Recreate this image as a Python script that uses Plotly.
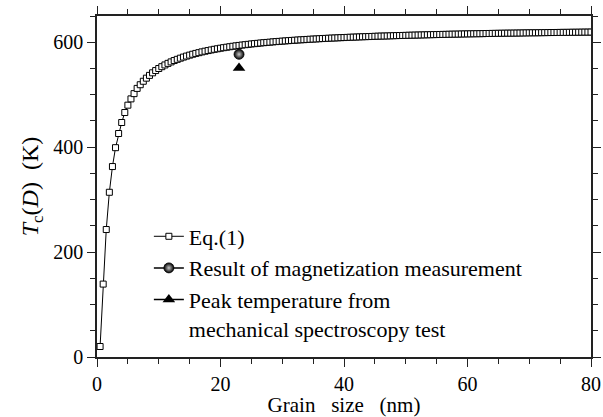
import plotly.graph_objects as go

# Eq.(1) curve: grain size (nm) and Tc (K)
grain_size = [
    0.5, 1.0, 1.5, 2.0, 2.5, 3.0, 3.5, 4.0, 4.5, 5.0, 5.5, 6.0, 6.5, 7.0, 7.5, 8.0, 8.5, 9.0, 9.5, 10.0,
    10.5, 11.0, 11.5, 12.0, 12.5, 13.0, 13.5, 14.0, 14.5, 15.0, 15.5, 16.0, 16.5, 17.0, 17.5, 18.0, 18.5, 19.0, 19.5, 20.0,
    20.5, 21.0, 21.5, 22.0, 22.5, 23.0, 23.5, 24.0, 24.5, 25.0, 25.5, 26.0, 26.5, 27.0, 27.5, 28.0, 28.5, 29.0, 29.5, 30.0,
    30.5, 31.0, 31.5, 32.0, 32.5, 33.0, 33.5, 34.0, 34.5, 35.0, 35.5, 36.0, 36.5, 37.0, 37.5, 38.0, 38.5, 39.0, 39.5, 40.0,
    40.5, 41.0, 41.5, 42.0, 42.5, 43.0, 43.5, 44.0, 44.5, 45.0, 45.5, 46.0, 46.5, 47.0, 47.5, 48.0, 48.5, 49.0, 49.5, 50.0,
    50.5, 51.0, 51.5, 52.0, 52.5, 53.0, 53.5, 54.0, 54.5, 55.0, 55.5, 56.0, 56.5, 57.0, 57.5, 58.0, 58.5, 59.0, 59.5, 60.0,
    60.5, 61.0, 61.5, 62.0, 62.5, 63.0, 63.5, 64.0, 64.5, 65.0, 65.5, 66.0, 66.5, 67.0, 67.5, 68.0, 68.5, 69.0, 69.5, 70.0,
    70.5, 71.0, 71.5, 72.0, 72.5, 73.0, 73.5, 74.0, 74.5, 75.0, 75.5, 76.0, 76.5, 77.0, 77.5, 78.0, 78.5, 79.0, 79.5, 80.0,
]
tc_eq1 = [
    20, 139, 243, 314, 363, 399, 426, 447, 466, 480, 492, 502, 512, 519, 525.6, 531.5, 536.8, 541.7, 546.0, 549.9,
    553.4, 556.7, 559.7, 562.5, 565.1, 567.4, 569.6, 571.7, 573.6, 575.4, 577.1, 578.7, 580.1, 581.6, 582.9, 584.1, 585.3, 586.5, 587.5, 588.6,
    589.6, 590.5, 591.4, 592.3, 593.1, 593.9, 594.6, 595.3, 596.0, 596.7, 597.3, 597.9, 598.5, 599.1, 599.6, 600.1, 600.7, 601.2, 601.6, 602.1,
    602.5, 603.0, 603.4, 603.8, 604.2, 604.6, 604.9, 605.3, 605.7, 606.0, 606.3, 606.7, 607.0, 607.3, 607.6, 607.9, 608.1, 608.4, 608.7, 608.9,
    609.2, 609.5, 609.7, 609.9, 610.2, 610.4, 610.6, 610.8, 611.0, 611.3, 611.5, 611.7, 611.8, 612.0, 612.2, 612.4, 612.6, 612.8, 612.9, 613.1,
    613.3, 613.4, 613.6, 613.7, 613.9, 614.0, 614.2, 614.3, 614.5, 614.6, 614.8, 614.9, 615.0, 615.2, 615.3, 615.4, 615.5, 615.7, 615.8, 615.9,
    616.0, 616.1, 616.2, 616.3, 616.4, 616.6, 616.7, 616.8, 616.9, 617.0, 617.1, 617.2, 617.3, 617.3, 617.4, 617.5, 617.6, 617.7, 617.8, 617.9,
    618.0, 618.0, 618.1, 618.2, 618.3, 618.4, 618.5, 618.5, 618.6, 618.7, 618.8, 618.8, 618.9, 619.0, 619.0, 619.1, 619.2, 619.3, 619.3, 619.4,
]

# Experimental points
magnet_x = [23]
magnet_y = [577]
peak_x = [23]
peak_y = [551]

x_ticks = [0, 20, 40, 60, 80]
y_ticks = [0, 200, 400, 600]

FONT = "'Liberation Serif', 'DejaVu Serif', 'Times New Roman', Times, serif"

fig = go.Figure()
fig.add_trace(go.Scatter(
    x=grain_size, y=tc_eq1, mode="lines+markers", name="Eq.(1)",
    line=dict(color="black", width=1),
    marker=dict(symbol="square", size=6, color="white", line=dict(color="black", width=1)),
))
fig.add_trace(go.Scatter(
    x=magnet_x, y=magnet_y, mode="lines+markers", name="Result of magnetization measurement",
    line=dict(color="black", width=1.5),
    marker=dict(symbol="circle", size=10, color="black",
                gradient=dict(type="radial", color="#c8c8c8"),
                line=dict(color="black", width=0.8)),
))
fig.add_trace(go.Scatter(
    x=peak_x, y=peak_y, mode="lines+markers",
    name="Peak temperature from<br>mechanical spectroscopy test",
    line=dict(color="black", width=1.5),
    marker=dict(symbol="triangle-up", size=11, color="black"),
))

axis_common = dict(
    showline=True, linecolor="#222", linewidth=1.5, mirror="allticks",
    ticks="outside", ticklen=8, tickwidth=1.2, tickcolor="#222",
    showgrid=False, zeroline=False, automargin=False,
    tickfont=dict(family=FONT, size=20, color="black"),
)

fig.update_layout(
    width=603, height=417,
    margin=dict(l=97, r=12, t=16, b=60),
    paper_bgcolor="white", plot_bgcolor="white",
    font=dict(family=FONT, color="black"),
    xaxis=dict(
        range=[0, 80], tickvals=x_ticks,
        minor=dict(dtick=5, ticks="outside", ticklen=5, tickwidth=1, tickcolor="#222"),
        title=dict(text="Grain\u00a0\u00a0 size\u00a0\u00a0 (nm)", font=dict(family=FONT, size=21), standoff=3),
        **axis_common,
    ),
    yaxis=dict(
        range=[0, 650], tickvals=y_ticks,
        minor=dict(dtick=50, ticks="outside", ticklen=5, tickwidth=1, tickcolor="#222"),
        title=dict(text="<i>T</i><sub>c</sub>(<i>D</i>)\u00a0 (K)", font=dict(family=FONT, size=24), standoff=8),
        **axis_common,
    ),
    legend=dict(
        x=0.105, y=0.415, xanchor="left", yanchor="top",
        bgcolor="rgba(0,0,0,0)", borderwidth=0,
        font=dict(family=FONT, size=22, color="black"),
        itemwidth=30, tracegroupgap=0, valign="top",
    ),
    showlegend=True,
)

fig.write_html("out.html")
